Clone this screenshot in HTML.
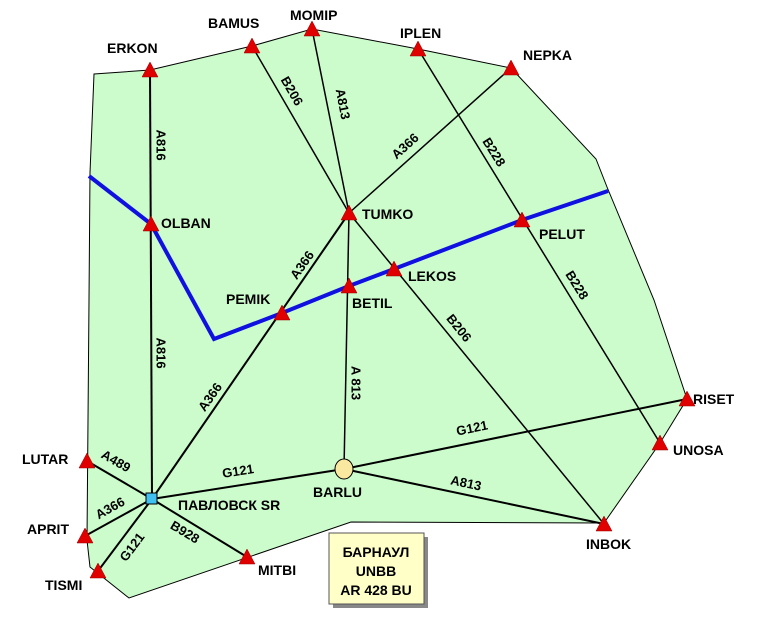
<!DOCTYPE html>
<html><head><meta charset="utf-8">
<style>
html,body{margin:0;padding:0;background:#fff;}
svg{display:block;font-family:"Liberation Sans","Noto Sans CJK SC",sans-serif;}
.lbl{font-size:14px;font-weight:bold;fill:#000;}
.aw{font-size:13px;font-weight:bold;fill:#000;}
</style></head>
<body>
<svg id="map" width="757" height="626" viewBox="0 0 757 626">
<polygon fill="#ccfccc" stroke="#000" stroke-width="1"
 points="94,74 150,70 252,46 312,29 418,49 511,68 596,159 607,187 654,300 687,399 660,443 604,523 351,522 129,598 90,567 87,540 89,300 90,173"/>
<g id="edges"></g>
<polyline id="route" fill="none" stroke="#1010e0" stroke-width="4"/>
<g id="awlabels"></g>
<g id="nodes"></g>
<g>
<rect x="333" y="537" width="95" height="71" fill="#888"/>
<rect x="329" y="533" width="95" height="71" fill="#ffffc8" stroke="#555" stroke-width="1"/>
<text class="lbl" x="376" y="557" text-anchor="middle">БАРНАУЛ</text>
<text class="lbl" x="376" y="576" text-anchor="middle">UNBB</text>
<text class="lbl" x="376" y="595" text-anchor="middle">AR 428 BU</text>
</g>
</svg>
<script>
const nodeNames=["ERKON","BAMUS","MOMIP","IPLEN","NEPKA","OLBAN","TUMKO","PELUT","LEKOS","BETIL","PEMIK","RISET","UNOSA","BARLU","INBOK","ПАВЛОВСК SR","LUTAR","APRIT","TISMI","MITBI"];
const nodeX=[150,252,312,418,511,151,349,522,394,349,282,687,660,344,604,152,87,85,98,247];
const nodeY=[70,46,29,49,68,224,213,220,269,286,313,399,443,469,524,499,461,536,571,557];
const labelX=[107,208,290,400,523,161,362,539,408,352,226,693,673,313,586,178,22,27,45,258];
const labelY=[53,28,20,38,60,228,219,239,281,308,304,404,455,497,549,510,464,534,590,575];
const edgeFrom=[0,1,2,4,6,6,6,3,15,13,13,15,15,15,15];
const edgeTo=[15,6,6,6,15,13,14,12,13,11,14,16,17,18,19];
const routeNodes=[-1,5,-2,10,9,8,7,-3];
const routeExtraX=[89,214,608];
const routeExtraY=[176,339,191];
const awNames=["A816","A816","B206","A813","A366","B228","B228","A366","A366","B206","A 813","G121","G121","A813","A489","A366","G121","B928"];
const awCX=[161,161,292,343,405,494,577,302,210,459,356,238,472,466,116,110,132,185];
const awCY=[145,353,91,104,146,152,285,265,397,328,383,471,428,483,461,508,547,532];
const awRot=[90,90,60,79,-42,58,58,-55,-55,51,90,-9,-11.5,12,30,-29,-53,31];
const NS="http://www.w3.org/2000/svg";
const eg=document.getElementById('edges');
for(let i=0;i<edgeFrom.length;i++){
 const l=document.createElementNS(NS,'line');
 l.setAttribute('x1',nodeX[edgeFrom[i]]);l.setAttribute('y1',nodeY[edgeFrom[i]]);
 l.setAttribute('x2',nodeX[edgeTo[i]]);l.setAttribute('y2',nodeY[edgeTo[i]]);
 l.setAttribute('stroke','#000');l.setAttribute('stroke-width',(edgeFrom[i]>=13||edgeTo[i]>=15)?2:1.5);
 
 
 eg.appendChild(l);
}
const pts=routeNodes.map(n=>n>=0?nodeX[n]+','+nodeY[n]:routeExtraX[-n-1]+','+routeExtraY[-n-1]);
document.getElementById('route').setAttribute('points',pts.join(' '));
const ag=document.getElementById('awlabels');
for(let i=0;i<awNames.length;i++){
 const t=document.createElementNS(NS,'text');
 t.setAttribute('class','aw');t.setAttribute('text-anchor','middle');t.setAttribute('dominant-baseline','central');
 t.setAttribute('transform','translate('+awCX[i]+','+awCY[i]+') rotate('+awRot[i]+')');
 t.textContent=awNames[i];
 
 
 ag.appendChild(t);
}
const ng=document.getElementById('nodes');
for(let i=0;i<nodeNames.length;i++){
 const x=nodeX[i],y=nodeY[i];let s;
 if(i===13){s=document.createElementNS(NS,'ellipse');s.setAttribute('cx',x);s.setAttribute('cy',y);s.setAttribute('rx',9);s.setAttribute('ry',10);s.setAttribute('fill','#f8e8a0');s.setAttribute('stroke','#000');}
 else if(i===15){s=document.createElementNS(NS,'rect');s.setAttribute('x',x-6);s.setAttribute('y',y-6);s.setAttribute('width',11);s.setAttribute('height',11);s.setAttribute('fill','#40c0f0');s.setAttribute('stroke','#000');}
 else{s=document.createElementNS(NS,'polygon');s.setAttribute('points',(x-8)+','+(y+7)+' '+(x+8)+','+(y+7)+' '+x+','+(y-8));s.setAttribute('fill','#e00000');s.setAttribute('stroke','#900');s.setAttribute('stroke-width','0.5');}
 
 
 ng.appendChild(s);
 const t=document.createElementNS(NS,'text');
 t.setAttribute('class','lbl');t.setAttribute('x',labelX[i]);t.setAttribute('y',labelY[i]);
 t.textContent=nodeNames[i];
 
 
 ng.appendChild(t);
}
</script>
</body></html>
